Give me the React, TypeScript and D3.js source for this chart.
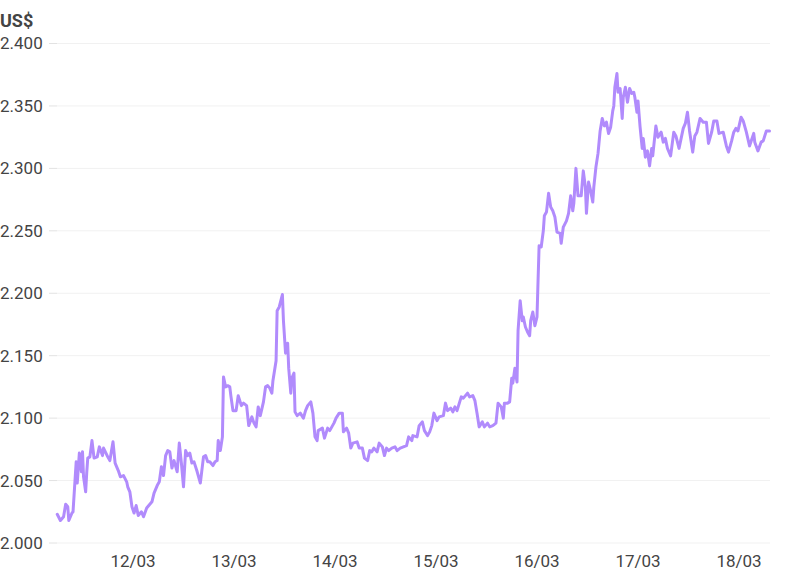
import React from "react";
import * as d3 from "d3";

// 15-minute interval index since 11/03 06:00
const intervals15m = [
  0, 3, 6, 8, 10, 11, 14, 15, 18, 19, 21, 23, 24, 25, 27, 28, 29, 31, 33, 35, 38, 40, 43, 44, 48, 50, 53, 55, 58, 60,
  63, 66, 67, 69, 71, 73, 75, 77, 80, 82, 85, 87, 90, 92, 95, 97, 99, 101, 103, 105, 107, 109, 111, 114, 116, 118, 120, 122, 124, 126,
  128, 130, 133, 136, 139, 141, 143, 145, 148, 150, 152, 153, 155, 157, 158, 160, 162, 164, 165, 167, 170, 172, 175, 177, 180, 182, 185, 187, 189, 191,
  193, 196, 198, 200, 202, 204, 205, 208, 209, 211, 214, 215, 217, 219, 220, 222, 223, 225, 226, 228, 231, 234, 236, 238, 241, 243, 245, 247, 248, 252,
  254, 257, 259, 261, 263, 265, 268, 271, 272, 275, 277, 279, 281, 285, 287, 290, 292, 295, 297, 299, 301, 304, 306, 309, 311, 313, 315, 318, 321, 323,
  326, 329, 332, 334, 337, 338, 342, 344, 347, 349, 352, 354, 356, 358, 361, 363, 367, 369, 371, 374, 376, 378, 380, 384, 386, 390, 392, 395, 397, 399,
  401, 404, 406, 409, 411, 414, 417, 419, 422, 424, 425, 428, 430, 432, 433, 435, 437, 438, 440, 442, 443, 445, 447, 449, 450, 452, 454, 456, 457, 458,
  460, 462, 463, 465, 467, 469, 471, 473, 475, 478, 479, 481, 484, 486, 488, 490, 491, 493, 495, 498, 500, 502, 503, 505, 507, 509, 510, 512, 514, 516,
  518, 520, 522, 524, 526, 528, 529, 530, 532, 533, 535, 537, 538, 540, 542, 544, 546, 548, 549, 551, 552, 554, 556, 557, 559, 561, 563, 565, 566, 569,
  571, 574, 576, 578, 580, 583, 586, 588, 591, 595, 597, 599, 601, 604, 606, 608, 611, 614, 617, 619, 622, 624, 627, 629, 633, 636, 638, 641, 643, 645,
  647, 650, 652, 655, 658, 662, 663, 666, 669, 671, 674, 677,
];

const priceUSD = [
  2.023, 2.018, 2.021, 2.031, 2.029, 2.018, 2.024, 2.025, 2.065, 2.048, 2.072, 2.057, 2.073, 2.053, 2.041, 2.056, 2.068, 2.069, 2.082, 2.068, 2.069, 2.077, 2.070, 2.076, 2.069, 2.066, 2.081, 2.064, 2.058, 2.053,
  2.054, 2.049, 2.045, 2.041, 2.029, 2.024, 2.030, 2.022, 2.025, 2.021, 2.028, 2.030, 2.033, 2.040, 2.046, 2.049, 2.061, 2.054, 2.070, 2.074, 2.073, 2.060, 2.066, 2.057, 2.080, 2.064, 2.045, 2.074, 2.070, 2.072,
  2.064, 2.065, 2.057, 2.048, 2.069, 2.070, 2.065, 2.065, 2.062, 2.065, 2.066, 2.082, 2.074, 2.085, 2.133, 2.125, 2.126, 2.125, 2.118, 2.106, 2.106, 2.118, 2.110, 2.112, 2.110, 2.094, 2.101, 2.096, 2.093, 2.109,
  2.102, 2.113, 2.125, 2.126, 2.124, 2.120, 2.130, 2.146, 2.186, 2.189, 2.199, 2.178, 2.152, 2.160, 2.140, 2.120, 2.132, 2.136, 2.105, 2.102, 2.104, 2.100, 2.106, 2.110, 2.113, 2.104, 2.085, 2.082, 2.090, 2.092,
  2.084, 2.092, 2.090, 2.093, 2.096, 2.100, 2.104, 2.104, 2.089, 2.092, 2.088, 2.076, 2.080, 2.081, 2.076, 2.076, 2.068, 2.066, 2.074, 2.073, 2.076, 2.073, 2.080, 2.077, 2.070, 2.076, 2.074, 2.076, 2.077, 2.074,
  2.076, 2.077, 2.078, 2.085, 2.082, 2.086, 2.085, 2.094, 2.097, 2.090, 2.086, 2.089, 2.094, 2.104, 2.098, 2.101, 2.102, 2.112, 2.106, 2.108, 2.105, 2.109, 2.106, 2.117, 2.116, 2.120, 2.117, 2.118, 2.114, 2.104,
  2.093, 2.097, 2.093, 2.096, 2.093, 2.094, 2.096, 2.112, 2.109, 2.100, 2.112, 2.112, 2.113, 2.132, 2.128, 2.140, 2.129, 2.170, 2.194, 2.178, 2.181, 2.173, 2.169, 2.166, 2.178, 2.185, 2.174, 2.181, 2.210, 2.238,
  2.237, 2.250, 2.262, 2.265, 2.280, 2.269, 2.266, 2.261, 2.249, 2.248, 2.240, 2.253, 2.258, 2.264, 2.278, 2.266, 2.272, 2.300, 2.278, 2.278, 2.298, 2.285, 2.264, 2.289, 2.282, 2.273, 2.285, 2.301, 2.312, 2.330,
  2.340, 2.334, 2.337, 2.328, 2.333, 2.346, 2.350, 2.365, 2.376, 2.361, 2.364, 2.340, 2.357, 2.365, 2.353, 2.364, 2.360, 2.361, 2.357, 2.345, 2.354, 2.333, 2.316, 2.324, 2.309, 2.314, 2.302, 2.316, 2.310, 2.334,
  2.325, 2.329, 2.321, 2.324, 2.316, 2.310, 2.329, 2.326, 2.316, 2.332, 2.336, 2.345, 2.330, 2.313, 2.326, 2.329, 2.340, 2.337, 2.337, 2.320, 2.329, 2.338, 2.338, 2.328, 2.329, 2.318, 2.313, 2.322, 2.329, 2.332,
  2.330, 2.341, 2.338, 2.329, 2.318, 2.328, 2.321, 2.314, 2.321, 2.322, 2.330, 2.330,
];

const yTicks = [2.0, 2.05, 2.1, 2.15, 2.2, 2.25, 2.3, 2.35, 2.4];
const xTickDays = [12, 13, 14, 15, 16, 17, 18];
const unitLabel = "US$";

const W = 794;
const H = 575;

export default function App() {
  const start = new Date(2024, 2, 11, 6, 0);
  const data = intervals15m.map((q, i) => ({
    t: new Date(start.getTime() + q * 15 * 60 * 1000),
    v: priceUSD[i],
  }));

  const dayStart = new Date(2024, 2, 12);
  const dayEnd = new Date(2024, 2, 18);
  const x = d3
    .scaleTime()
    .domain([dayStart, dayEnd])
    .range([133, 739]);
  const y = d3.scaleLinear().domain([2.0, 2.4]).range([543, 43.5]);

  const line = d3
    .line<{ t: Date; v: number }>()
    .x((d) => x(d.t))
    .y((d) => y(d.v))
    .curve(d3.curveLinear);

  const gridX0 = 57;
  const gridX1 = 770;
  const fmt = d3.format(".3f");
  const font = "Roboto, 'Noto Sans', sans-serif";

  return (
    <svg
      width={W}
      height={H}
      style={{ position: "absolute", left: 0, top: 0, background: "#fff" }}
      fontFamily={font}
    >
      <text x={0} y={27} fontSize={18} fontWeight={700} fill="#444">
        {unitLabel}
      </text>
      {yTicks.map((t) => (
        <g key={t}>
          <line x1={gridX0} x2={gridX1} y1={y(t)} y2={y(t)} stroke="#f1f1f1" strokeWidth={1} />
          <line x1={49} x2={gridX0} y1={y(t)} y2={y(t)} stroke="#e2e2e2" strokeWidth={1} />
          <text x={0} y={y(t)} dy="0.35em" fontSize={17} fill="#444">
            {fmt(t)}
          </text>
        </g>
      ))}
      {xTickDays.map((d) => {
        const dt = new Date(2024, 2, d);
        return (
          <text key={d} x={x(dt)} y={567} textAnchor="middle" fontSize={17} fill="#444">
            {d3.timeFormat("%d/%m")(dt)}
          </text>
        );
      })}
      <path
        d={line(data) || ""}
        fill="none"
        stroke="#b18bfc"
        strokeWidth={3}
        strokeLinejoin="round"
        strokeLinecap="round"
      />
    </svg>
  );
}
